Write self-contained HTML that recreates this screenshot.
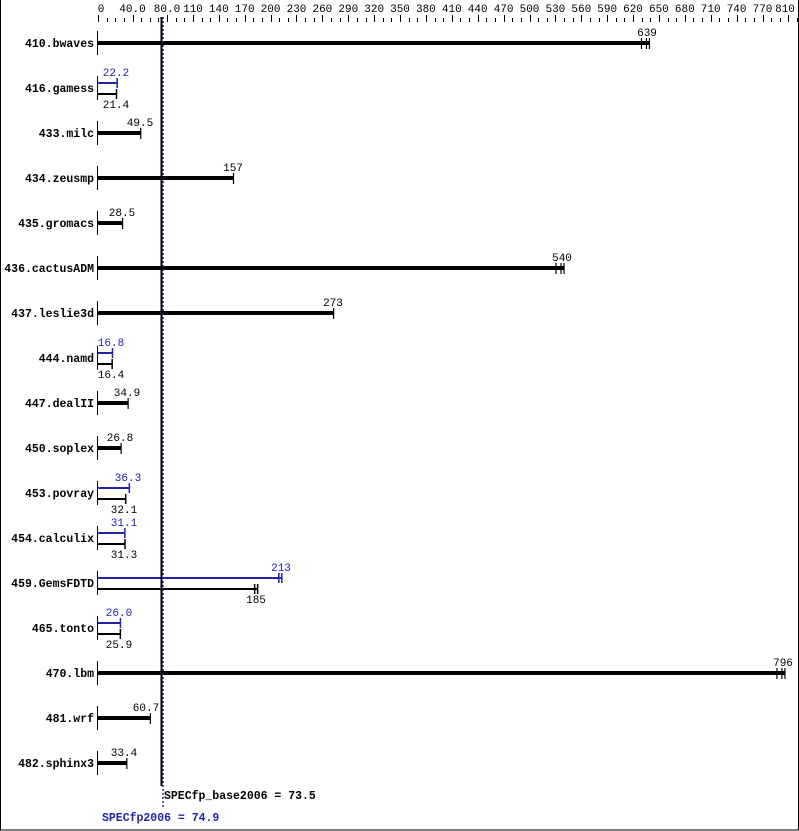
<!DOCTYPE html>
<html><head><meta charset="utf-8"><style>
html,body{margin:0;padding:0;background:#fff}
svg{display:block}
text{font-family:"Liberation Mono","DejaVu Sans Mono",monospace;font-size:11px}
.n{font-weight:bold;font-size:11.5px;text-anchor:end}
.v{text-anchor:middle}
.b{fill:#2222aa}
</style></head><body>
<svg id="s" width="799" height="831" viewBox="0 0 799 831" xmlns="http://www.w3.org/2000/svg">
<rect x="0.5" y="-2" width="798" height="832" fill="none" stroke="#000"/>
<g id="ticks" stroke="#000" stroke-width="1"></g>
<g class="v">
<text x="101" y="12" class="v">0</text>
<text x="132.5" y="12" class="v">40.0</text>
<text x="167" y="12" class="v">80.0</text>
<text x="193" y="12" class="v">110</text>
<text x="218.8" y="12" class="v">140</text>
<text x="244.7" y="12" class="v">170</text>
<text x="270.6" y="12" class="v">200</text>
<text x="296.5" y="12" class="v">230</text>
<text x="322.4" y="12" class="v">260</text>
<text x="348.3" y="12" class="v">290</text>
<text x="374.2" y="12" class="v">320</text>
<text x="400" y="12" class="v">350</text>
<text x="425.9" y="12" class="v">380</text>
<text x="451.8" y="12" class="v">410</text>
<text x="477.7" y="12" class="v">440</text>
<text x="503.6" y="12" class="v">470</text>
<text x="529.5" y="12" class="v">500</text>
<text x="555.4" y="12" class="v">530</text>
<text x="581.3" y="12" class="v">560</text>
<text x="607.2" y="12" class="v">590</text>
<text x="633" y="12" class="v">620</text>
<text x="658.9" y="12" class="v">650</text>
<text x="684.8" y="12" class="v">680</text>
<text x="710.7" y="12" class="v">710</text>
<text x="736.6" y="12" class="v">740</text>
<text x="762.5" y="12" class="v">770</text>
<text x="785" y="12" class="v">810</text>
</g>
<g id="bars"></g>
<g>
<text class="n" x="94" y="47">410.bwaves</text>
<text class="n" x="94" y="92">416.gamess</text>
<text class="n" x="94" y="137">433.milc</text>
<text class="n" x="94" y="182">434.zeusmp</text>
<text class="n" x="94" y="227">435.gromacs</text>
<text class="n" x="94" y="272">436.cactusADM</text>
<text class="n" x="94" y="317">437.leslie3d</text>
<text class="n" x="94" y="362">444.namd</text>
<text class="n" x="94" y="407">447.dealII</text>
<text class="n" x="94" y="452">450.soplex</text>
<text class="n" x="94" y="497">453.povray</text>
<text class="n" x="94" y="542">454.calculix</text>
<text class="n" x="94" y="587">459.GemsFDTD</text>
<text class="n" x="94" y="632">465.tonto</text>
<text class="n" x="94" y="677">470.lbm</text>
<text class="n" x="94" y="722">481.wrf</text>
<text class="n" x="94" y="767">482.sphinx3</text>
</g>
<g class="v">
<text class="v" x="647" y="36">639</text>
<text class="v b" x="116" y="76">22.2</text>
<text class="v" x="116" y="108">21.4</text>
<text class="v" x="140" y="126">49.5</text>
<text class="v" x="233" y="171">157</text>
<text class="v" x="122" y="216">28.5</text>
<text class="v" x="562" y="261">540</text>
<text class="v" x="333" y="306">273</text>
<text class="v b" x="111" y="346">16.8</text>
<text class="v" x="111" y="378">16.4</text>
<text class="v" x="127" y="396">34.9</text>
<text class="v" x="120" y="441">26.8</text>
<text class="v b" x="128" y="481">36.3</text>
<text class="v" x="124" y="513">32.1</text>
<text class="v b" x="124" y="526">31.1</text>
<text class="v" x="124" y="558">31.3</text>
<text class="v b" x="281" y="571">213</text>
<text class="v" x="256" y="603">185</text>
<text class="v b" x="119" y="616">26.0</text>
<text class="v" x="119" y="648">25.9</text>
<text class="v" x="783" y="666">796</text>
<text class="v" x="146" y="711">60.7</text>
<text class="v" x="124" y="756">33.4</text>
</g>
<line x1="161.5" y1="17" x2="161.5" y2="786" stroke="#000" stroke-width="2"/>
<line x1="163" y1="17" x2="163" y2="808" stroke="#2222aa" stroke-width="1.5" stroke-dasharray="2,2"/>
<text x="164" y="799" style="font-weight:bold;font-size:11.5px">SPECfp_base2006 = 73.5</text>
<text x="102" y="821" class="b" style="font-weight:bold;font-size:11.5px">SPECfp2006 = 74.9</text>
</svg>
<script>
var NS="http://www.w3.org/2000/svg";
function L(g,x1,y1,x2,y2,c,w){var l=document.createElementNS(NS,"line");l.setAttribute("x1",x1);l.setAttribute("y1",y1);l.setAttribute("x2",x2);l.setAttribute("y2",y2);l.setAttribute("stroke",c);l.setAttribute("stroke-width",w);g.appendChild(l);}
var t=document.getElementById("ticks");
for(var k=0;k<=81;k++){var v=k*10,x=Math.round(98+0.863*v)+0.5;var maj=(v==0||v==40||(v>=80&&(v-80)%30==0));L(t,x,maj?15:18,x,22,"#000",1);}
var b=document.getElementById("bars");
var X=function(v){return 98+0.863*v;};
var rows=[[639],[22.2,21.4],[49.5],[157],[28.5],[540],[273],[16.8,16.4],[34.9],[26.8],[36.3,32.1],[31.1,31.3],[213,185],[26.0,25.9],[796],[60.7],[33.4]];
rows.forEach(function(r,i){var y=43+45*i;L(b,97.5,y-12,97.5,y+12,"#000",1);
if(r.length==1){var x=X(r[0]);L(b,98,y,x,y,"#000",4);L(b,x,y-5,x,y+6,"#000",1.2);if(r[0]>500){L(b,x-3,y-5,x-3,y+6,"#000",1.2);L(b,x-8,y-5,x-8,y+6,"#000",1.2);}}
else{var xb=X(r[0]),xk=X(r[1]);L(b,98,y-5,xb,y-5,"#2222aa",2);L(b,xb,y-10,xb,y,"#2222aa",1.5);L(b,98,y+6,xk,y+6,"#000",2);L(b,xk,y+1,xk,y+11,"#000",1.5);if(r[0]>100){L(b,xb-3,y-10,xb-3,y,"#2222aa",1.5);L(b,xk-3,y+1,xk-3,y+11,"#000",1.5);}}
});
</script>
</body></html>
